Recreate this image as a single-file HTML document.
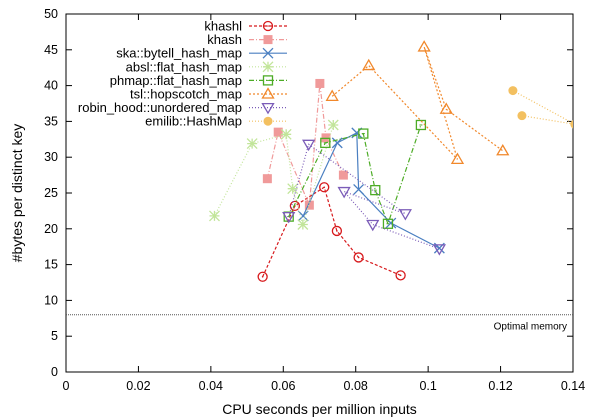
<!DOCTYPE html>
<html><head><meta charset="utf-8"><style>
html,body{margin:0;padding:0;background:#fff;}
svg{display:block;font-family:"Liberation Sans",sans-serif;}
</style></head><body>
<svg id="chart" width="600" height="420" viewBox="0 0 600 420">
<defs><clipPath id="clip"><rect x="66" y="14" width="507" height="358"/></clipPath></defs>
<g id="grid"></g>
<g id="series" clip-path="url(#clip)"></g>
<g id="legend"></g>
</svg>
<script>
const xTicks=[0,0.02,0.04,0.06,0.08,0.1,0.12,0.14];
const yTicks=[0,5,10,15,20,25,30,35,40,45,50];
const seriesNames=["khashl","khash","ska::bytell_hash_map","absl::flat_hash_map","phmap::flat_hash_map","tsl::hopscotch_map","robin_hood::unordered_map","emilib::HashMap"];
const khashlX=[0.0543,0.0632,0.0713,0.0748,0.0808,0.0924];
const khashlY=[13.3,23.2,25.8,19.7,16.0,13.5];
const khashX=[0.0556,0.0586,0.0672,0.0701,0.0718,0.0766];
const khashY=[27.0,33.5,23.3,40.3,32.7,27.5];
const skaX=[0.0655,0.0749,0.0803,0.0808,0.0897,0.1031];
const skaY=[21.8,32.0,33.4,25.5,20.8,17.3];
const abslX=[0.041,0.0514,0.0608,0.0626,0.0654,0.0738];
const abslY=[21.8,31.9,33.2,25.6,20.6,34.5];
const phmapX=[0.0615,0.0716,0.0821,0.0854,0.0889,0.0980];
const phmapY=[21.7,32.0,33.3,25.4,20.7,34.5];
const tslX=[0.0735,0.0836,0.1081,0.0989,0.1050,0.1206];
const tslY=[38.5,42.8,29.7,45.4,36.7,30.9];
const robinX=[0.0615,0.0670,0.0937,0.0768,0.0847,0.1031];
const robinY=[21.7,31.8,22.1,25.2,20.6,17.2];
const emilibX=[0.1234,0.1405,0.1259];
const emilibY=[39.3,34.6,35.8];
const optimalMemory=8;

const L=66,T=14,R=573,B=372;
const sx=v=>L+(v-0)/(0.14)*(R-L);
const sy=v=>B-(v/50)*(B-T);
const NS="http://www.w3.org/2000/svg";
function mk(tag,attrs,parent){const e=document.createElementNS(NS,tag);for(const k in attrs)e.setAttribute(k,attrs[k]);parent.appendChild(e);return e;}
const grid=document.getElementById('grid'),ser=document.getElementById('series'),leg=document.getElementById('legend');

const frame=mk('rect',{x:L,y:T,width:R-L,height:B-T,fill:'none',stroke:'#000','stroke-width':1},grid);


xTicks.forEach(t=>{
  const x=sx(t);
  mk('line',{x1:x,x2:x,y1:B,y2:B-6,stroke:'#000'},grid);
  mk('line',{x1:x,x2:x,y1:T,y2:T+6,stroke:'#000'},grid);
  const tx=mk('text',{x:x,y:B+18,'text-anchor':'middle','font-size':12.5},grid);
  tx.textContent=String(t);
  
  
});
yTicks.forEach(t=>{
  const y=sy(t);
  mk('line',{x1:L,x2:L+6,y1:y,y2:y,stroke:'#000'},grid);
  mk('line',{x1:R,x2:R-6,y1:y,y2:y,stroke:'#000'},grid);
  const tx=mk('text',{x:L-8,y:y+4,'text-anchor':'end','font-size':12.5},grid);
  tx.textContent=String(t);
  
  
});
const xt=mk('text',{x:(L+R)/2,y:414,'text-anchor':'middle','font-size':14},grid);
xt.textContent='CPU seconds per million inputs';


const yt=mk('text',{x:0,y:0,'text-anchor':'middle','font-size':14,transform:'translate(22,193) rotate(-90)'},grid);
yt.textContent='#bytes per distinct key';


const om=mk('line',{x1:L,x2:R,y1:sy(optimalMemory),y2:sy(optimalMemory),stroke:'#555','stroke-dasharray':'1,1'},grid);


const omt=mk('text',{x:567,y:sy(optimalMemory)+15,'text-anchor':'end','font-size':10},grid);
omt.textContent='Optimal memory';



const styles=[
 {c:'#d7191c',d:'3,2',m:'circle'},
 {c:'#f09a9a',d:'5,2,1,2',m:'square-fill'},
 {c:'#4a7fc1',d:'',m:'x'},
 {c:'#c2e59a',d:'1,2',m:'star'},
 {c:'#4dac26',d:'5,2,1,2',m:'square'},
 {c:'#f1882b',d:'2,2',m:'tri'},
 {c:'#7b5cb8',d:'1,2',m:'tridown'},
 {c:'#f3c060',d:'1,2',m:'dot'}
];
const dataX=[khashlX,khashX,skaX,abslX,phmapX,tslX,robinX,emilibX];
const dataY=[khashlY,khashY,skaY,abslY,phmapY,tslY,robinY,emilibY];
function marker(type,x,y,c,g){
  const s=5;
  switch(type){
    case 'circle': mk('circle',{cx:x,cy:y,r:4.5,fill:'none',stroke:c,'stroke-width':1.3},g); mk('circle',{cx:x,cy:y,r:0.8,fill:c},g); break;
    case 'square-fill': mk('rect',{x:x-4.5,y:y-4.5,width:9,height:9,fill:c},g); break;
    case 'x': mk('path',{d:`M${x-s},${y-s}L${x+s},${y+s}M${x-s},${y+s}L${x+s},${y-s}`,stroke:c,'stroke-width':1.3},g); break;
    case 'star': mk('path',{d:`M${x-s},${y-s}L${x+s},${y+s}M${x-s},${y+s}L${x+s},${y-s}M${x},${y-s}L${x},${y+s}M${x-s},${y}L${x+s},${y}`,stroke:c,'stroke-width':1.3},g); break;
    case 'square': mk('rect',{x:x-4.5,y:y-4.5,width:9,height:9,fill:'none',stroke:c,'stroke-width':1.3},g); mk('line',{x1:x-1.5,x2:x+1.5,y1:y,y2:y,stroke:c},g); break;
    case 'tri': mk('path',{d:`M${x},${y-5.5}L${x+5.5},${y+4}L${x-5.5},${y+4}Z`,fill:'none',stroke:c,'stroke-width':1.3},g); break;
    case 'tridown': mk('path',{d:`M${x},${y+5.5}L${x+5.5},${y-4}L${x-5.5},${y-4}Z`,fill:'none',stroke:c,'stroke-width':1.3},g); break;
    case 'dot': mk('circle',{cx:x,cy:y,r:4.5,fill:c},g); break;
  }
}
seriesNames.forEach((name,i)=>{
  const st=styles[i];
  const g=mk('g',{},ser);
  
  
  const pts=dataX[i].map((v,j)=>sx(v)+','+sy(dataY[i][j])).join(' ');
  mk('polyline',{points:pts,fill:'none',stroke:st.c,'stroke-width':1.2,'stroke-dasharray':st.d},g);
  dataX[i].forEach((v,j)=>marker(st.m,sx(v),sy(dataY[i][j]),st.c,g));
  const ly=26+i*13.6;
  const lg=mk('g',{},leg);
  
  
  const t=mk('text',{x:242,y:ly+4.5,'text-anchor':'end','font-size':13},lg);
  t.textContent=name;
  mk('line',{x1:249,x2:287,y1:ly,y2:ly,stroke:st.c,'stroke-width':1.2,'stroke-dasharray':st.d},lg);
  marker(st.m,268,ly,st.c,lg);
});
</script>
</body></html>
